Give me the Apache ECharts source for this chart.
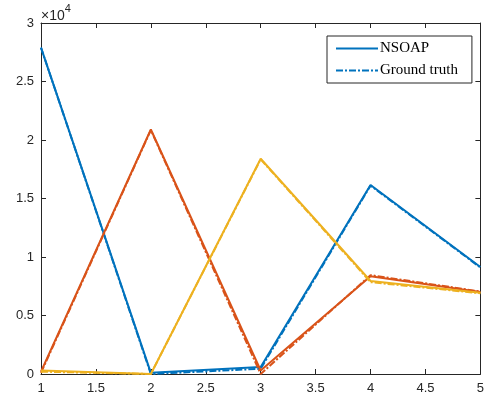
<!DOCTYPE html>
<html>
<head>
<meta charset="utf-8">
<script src="https://cdn.jsdelivr.net/npm/echarts@6/dist/echarts.min.js"></script>
<style>
  html, body { margin: 0; padding: 0; background: #fff; }
  #chart { width: 487px; height: 400px; }
</style>
</head>
<body>
<div id="chart"></div>
<script>
// x positions of the points
const xValues = [1, 2, 3, 4, 5];

// NSOAP estimates (solid lines)
const nsoapBlue = [27900, 100, 600, 16150, 9150];
const nsoapOrange = [200, 20900, 300, 8350, 7000];
const nsoapYellow = [300, 0, 18400, 7950, 6950];

// ground truth (dash-dot lines)
const truthBlue = [27900, 0, 450, 16100, 9100];
const truthOrange = [100, 20850, 0, 8450, 7050];
const truthYellow = [200, 0, 18350, 7850, 6900];

const legendNames = ['NSOAP', 'Ground truth'];

const colors = ['#0072BD', '#D95319', '#EDB120'];
const dashDot = [7, 2, 2, 2];
const axisColor = '#262626';

function pairs(ys) {
  return xValues.map((x, i) => [x, ys[i]]);
}

function lineSeries(name, ys, color, dashed) {
  return {
    name: name,
    type: 'line',
    data: pairs(ys),
    symbol: 'none',
    silent: true,
    animation: false,
    lineStyle: { color: color, width: 2, type: dashed ? dashDot : 'solid' },
    itemStyle: { color: color }
  };
}

const chart = echarts.init(document.getElementById('chart'));

const tickStyle = { show: true, inside: true, length: 5, lineStyle: { color: axisColor, width: 1 } };
const lineAxis = { show: true, onZero: false, lineStyle: { color: axisColor, width: 1 } };
const labelFont = { color: axisColor, fontFamily: 'Liberation Sans', fontSize: 13 };

const option = {
  backgroundColor: '#fff',
  grid: { left: 41, right: 3, top: 23, bottom: 26, containLabel: false },
  xAxis: [
    {
      type: 'value', min: 1, max: 5, interval: 0.5,
      axisLine: lineAxis, axisTick: tickStyle, splitLine: { show: false },
      axisLabel: Object.assign({ margin: 8 }, labelFont)
    },
    {
      type: 'value', position: 'top', min: 1, max: 5, interval: 0.5,
      axisLine: lineAxis, axisTick: tickStyle, splitLine: { show: false },
      axisLabel: { show: false }
    }
  ],
  yAxis: [
    {
      type: 'value', min: 0, max: 30000, interval: 5000,
      axisLine: lineAxis, axisTick: tickStyle, splitLine: { show: false },
      axisLabel: Object.assign({ margin: 7, formatter: v => String(v / 10000) }, labelFont)
    },
    {
      type: 'value', position: 'right', min: 0, max: 30000, interval: 5000,
      axisLine: lineAxis, axisTick: tickStyle, splitLine: { show: false },
      axisLabel: { show: false }
    }
  ],
  legend: {
    data: legendNames,
    orient: 'vertical',
    left: 327,
    top: 36,
    padding: [5, 14, 5, 8],
    itemWidth: 42,
    itemHeight: 12,
    itemGap: 7,
    selectedMode: false,
    itemStyle: { opacity: 0 },
    backgroundColor: '#fff',
    borderColor: axisColor,
    borderWidth: 1,
    borderRadius: 0,
    textStyle: { fontFamily: 'Liberation Serif', fontSize: 15, color: '#000', padding: [0, 0, 0, -3] }
  },
  graphic: [
    {
      type: 'text',
      left: 41,
      top: 3,
      style: {
        text: '{a|×10}{b|4}',
        rich: {
          a: { fontFamily: 'Liberation Sans', fontSize: 14, fill: axisColor, padding: [6, 0, 0, 0] },
          b: { fontFamily: 'Liberation Sans', fontSize: 11, fill: axisColor, verticalAlign: 'top' }
        }
      }
    }
  ],
  series: [
    lineSeries(legendNames[0], nsoapBlue, colors[0], false),
    lineSeries(legendNames[1], truthBlue, colors[0], true),
    lineSeries(legendNames[0], nsoapOrange, colors[1], false),
    lineSeries(legendNames[1], truthOrange, colors[1], true),
    lineSeries(legendNames[0], nsoapYellow, colors[2], false),
    lineSeries(legendNames[1], truthYellow, colors[2], true)
  ]
};

chart.setOption(option);
</script>
</body>
</html>
